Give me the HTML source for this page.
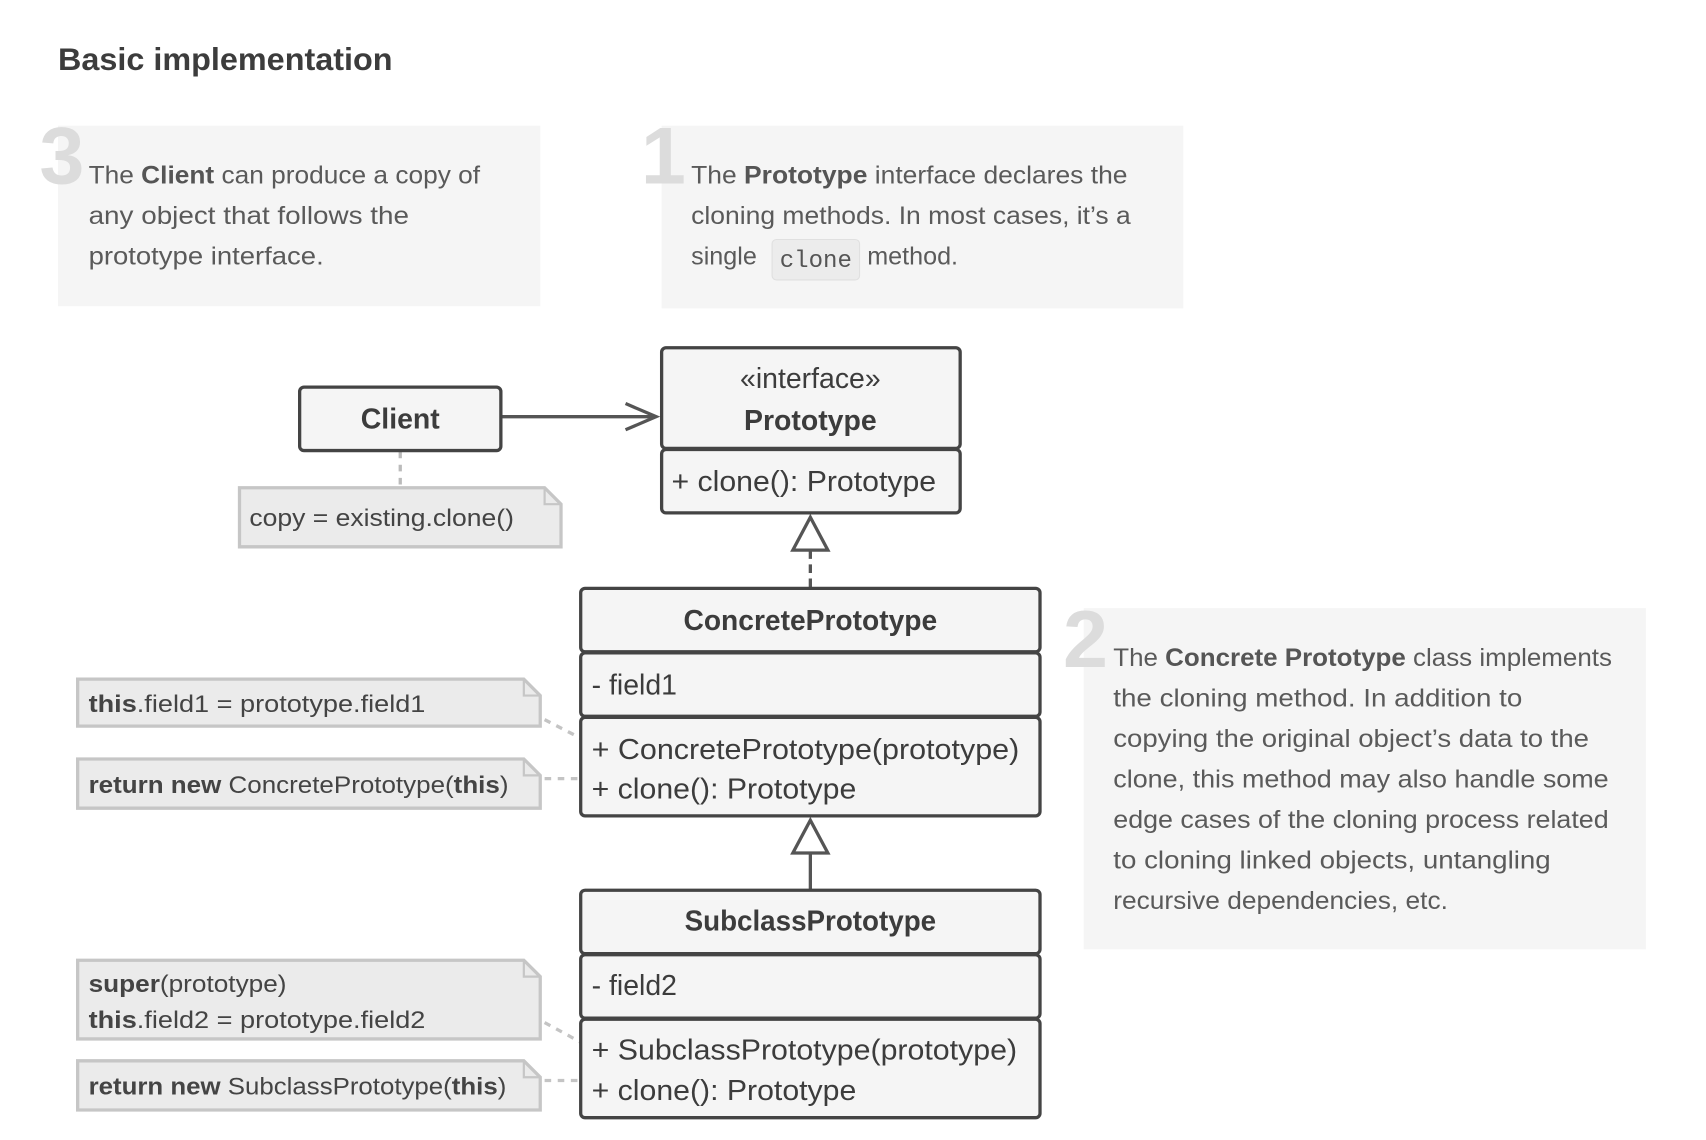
<!DOCTYPE html>
<html><head><meta charset="utf-8"><style>
html,body{margin:0;padding:0;background:#fff;width:1706px;height:1140px;overflow:hidden}
svg{display:block}
text{font-family:"Liberation Sans",sans-serif}
.n{font-size:23px;fill:#5a5a5a}
.b{font-weight:bold;fill:#555}
.u{font-size:26px;fill:#3c3c3c}
.big{font-size:74px;fill:#dcdcdc;font-weight:bold}
.nt{font-size:22px;fill:#444}
</style></head><body>
<svg width="1706" height="1140" viewBox="0 0 1560 1042.4" preserveAspectRatio="none">
<text x="53" y="64" style="font-size:29px;font-weight:bold;fill:#3c3c3c" textLength="306" lengthAdjust="spacingAndGlyphs">Basic implementation</text>

<!-- note 3 -->
<rect x="53" y="115" width="441" height="165" fill="#f5f5f5"/>
<text x="36" y="168" class="big">3</text>
<text class="n" x="81" y="168" textLength="358" lengthAdjust="spacingAndGlyphs">The <tspan class="b">Client</tspan> can produce a copy of</text>
<text class="n" x="81" y="205" textLength="293" lengthAdjust="spacingAndGlyphs">any object that follows the</text>
<text class="n" x="81" y="242" textLength="215" lengthAdjust="spacingAndGlyphs">prototype interface.</text>

<!-- note 1 -->
<rect x="605" y="115" width="477" height="167" fill="#f5f5f5"/>
<text x="586" y="168" class="big">1</text>
<text class="n" x="632" y="168" textLength="399" lengthAdjust="spacingAndGlyphs">The <tspan class="b">Prototype</tspan> interface declares the</text>
<text class="n" x="632" y="205" textLength="402" lengthAdjust="spacingAndGlyphs">cloning methods. In most cases, it’s a</text>
<text class="n" x="632" y="242">single</text>
<rect x="706" y="219" width="80" height="37" rx="4" fill="#ececec" stroke="#e0e0e0"/>
<text x="713" y="244" style="font-family:'Liberation Mono',monospace;font-size:22px;fill:#555">clone</text>
<text class="n" x="793" y="242">method.</text>

<!-- note 2 -->
<rect x="991" y="556" width="514" height="312" fill="#f5f5f5"/>
<text x="972" y="610" class="big">2</text>
<text class="n" x="1018" y="609" textLength="456" lengthAdjust="spacingAndGlyphs">The <tspan class="b">Concrete Prototype</tspan> class implements</text>
<text class="n" x="1018" y="646" textLength="374" lengthAdjust="spacingAndGlyphs">the cloning method. In addition to</text>
<text class="n" x="1018" y="683" textLength="435" lengthAdjust="spacingAndGlyphs">copying the original object’s data to the</text>
<text class="n" x="1018" y="720" textLength="453" lengthAdjust="spacingAndGlyphs">clone, this method may also handle some</text>
<text class="n" x="1018" y="757" textLength="453" lengthAdjust="spacingAndGlyphs">edge cases of the cloning process related</text>
<text class="n" x="1018" y="794" textLength="400" lengthAdjust="spacingAndGlyphs">to cloning linked objects, untangling</text>
<text class="n" x="1018" y="831" textLength="306" lengthAdjust="spacingAndGlyphs">recursive dependencies, etc.</text>

<!-- connectors -->
<line x1="458" y1="381" x2="600" y2="381" stroke="#555" stroke-width="3"/>
<polyline points="572,369 600,381 572,393" fill="none" stroke="#555" stroke-width="3"/>
<line x1="366" y1="413" x2="366" y2="445" stroke="#bbb" stroke-width="3" stroke-dasharray="6,6"/>
<line x1="741" y1="503" x2="741" y2="537" stroke="#555" stroke-width="3" stroke-dasharray="8,5"/>
<polygon points="741,473 757,503 725,503" fill="#fff" stroke="#555" stroke-width="3"/>
<line x1="741" y1="780" x2="741" y2="813" stroke="#555" stroke-width="3"/>
<polygon points="741,750 757,780 725,780" fill="#fff" stroke="#555" stroke-width="3"/>
<g stroke="#c4c4c4" stroke-width="3" stroke-dasharray="6,6">
<line x1="498" y1="658" x2="531" y2="675"/>
<line x1="498" y1="712" x2="531" y2="712"/>
<line x1="498" y1="935" x2="531" y2="953"/>
<line x1="498" y1="988" x2="531" y2="988"/>
</g>

<!-- Client -->
<rect x="274" y="354" width="184" height="58" rx="4" fill="#f5f5f5" stroke="#444" stroke-width="3"/>
<text class="u b" x="366" y="392" text-anchor="middle" style="fill:#3c3c3c">Client</text>

<!-- Prototype -->
<g fill="#f5f5f5" stroke="#444" stroke-width="3">
<rect x="605" y="318" width="273" height="92" rx="4"/>
<rect x="605" y="411" width="273" height="58" rx="4"/>
<rect x="531" y="538" width="420" height="58" rx="4"/>
<rect x="531" y="597" width="420" height="58" rx="4"/>
<rect x="531" y="656" width="420" height="90" rx="4"/>
<rect x="531" y="814" width="420" height="58" rx="4"/>
<rect x="531" y="873" width="420" height="58" rx="4"/>
<rect x="531" y="932" width="420" height="90" rx="4"/>
</g>
<text class="u" x="741" y="355" text-anchor="middle">«interface»</text>
<text class="u b" x="741" y="393" text-anchor="middle" style="fill:#3c3c3c">Prototype</text>
<text class="u" x="614" y="449" textLength="242" lengthAdjust="spacingAndGlyphs">+ clone(): Prototype</text>
<text class="u b" x="741" y="576" text-anchor="middle" style="fill:#3c3c3c" textLength="232" lengthAdjust="spacingAndGlyphs">ConcretePrototype</text>
<text class="u" x="541" y="635">- field1</text>
<text class="u" x="541" y="694" textLength="391" lengthAdjust="spacingAndGlyphs">+ ConcretePrototype(prototype)</text>
<text class="u" x="541" y="730" textLength="242" lengthAdjust="spacingAndGlyphs">+ clone(): Prototype</text>
<text class="u b" x="741" y="851" text-anchor="middle" style="fill:#3c3c3c" textLength="230" lengthAdjust="spacingAndGlyphs">SubclassPrototype</text>
<text class="u" x="541" y="910">- field2</text>
<text class="u" x="541" y="969" textLength="389" lengthAdjust="spacingAndGlyphs">+ SubclassPrototype(prototype)</text>
<text class="u" x="541" y="1006" textLength="242" lengthAdjust="spacingAndGlyphs">+ clone(): Prototype</text>

<!-- code notes -->
<g fill="#ebebeb" stroke="#c6c6c6" stroke-width="3">
<path d="M219,446 H498 L513,461 V500 H219 Z"/>
<path d="M71,621 H479 L494,636 V664 H71 Z"/>
<path d="M71,694 H479 L494,709 V739 H71 Z"/>
<path d="M71,878 H479 L494,893 V950 H71 Z"/>
<path d="M71,970 H479 L494,985 V1015 H71 Z"/>
</g>
<g fill="none" stroke="#c6c6c6" stroke-width="2">
<polyline points="498,446 498,461 513,461"/>
<polyline points="479,621 479,636 494,636"/>
<polyline points="479,694 479,709 494,709"/>
<polyline points="479,878 479,893 494,893"/>
<polyline points="479,970 479,985 494,985"/>
</g>
<text class="nt" x="228" y="481" textLength="242" lengthAdjust="spacingAndGlyphs">copy = existing.clone()</text>
<text class="nt" x="81" y="651" textLength="308" lengthAdjust="spacingAndGlyphs"><tspan font-weight="bold">this</tspan>.field1 = prototype.field1</text>
<text class="nt" x="81" y="725" textLength="384" lengthAdjust="spacingAndGlyphs"><tspan font-weight="bold">return new</tspan> ConcretePrototype(<tspan font-weight="bold">this</tspan>)</text>
<text class="nt" x="81" y="907" textLength="181" lengthAdjust="spacingAndGlyphs"><tspan font-weight="bold">super</tspan>(prototype)</text>
<text class="nt" x="81" y="940" textLength="308" lengthAdjust="spacingAndGlyphs"><tspan font-weight="bold">this</tspan>.field2 = prototype.field2</text>
<text class="nt" x="81" y="1001" textLength="382" lengthAdjust="spacingAndGlyphs"><tspan font-weight="bold">return new</tspan> SubclassPrototype(<tspan font-weight="bold">this</tspan>)</text>
</svg>
</body></html>
